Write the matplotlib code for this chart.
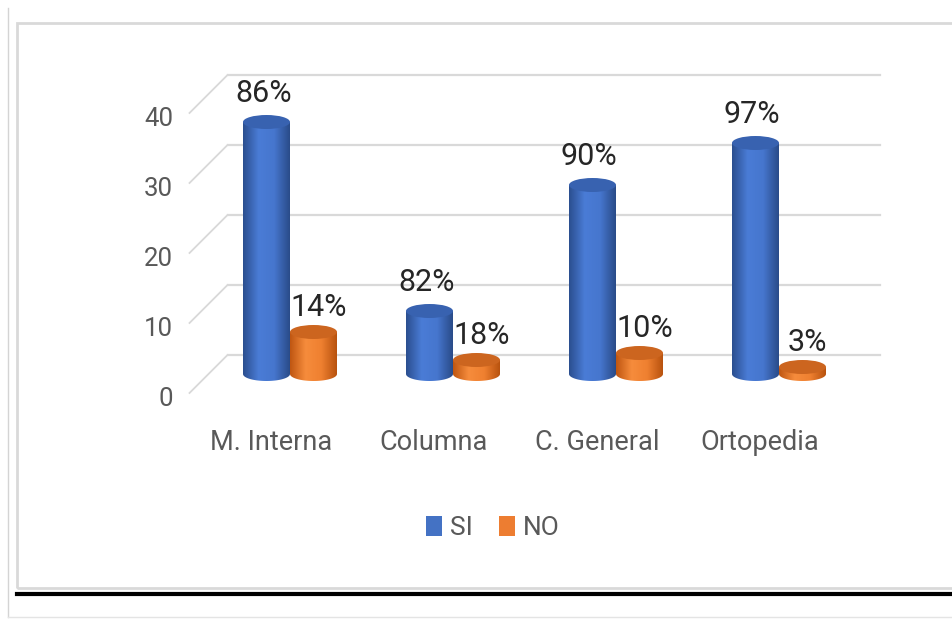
import numpy as np
import matplotlib
matplotlib.use('Agg')
import matplotlib.pyplot as plt
from matplotlib.patches import Polygon, Ellipse, Patch, Rectangle
from matplotlib.colors import LinearSegmentedColormap
from matplotlib.lines import Line2D

categories = ['M. Interna', 'Columna', 'C. General', 'Ortopedia']
si = [36, 9, 27, 33]
no = [6, 2, 3, 1]
si_labels = ['86%', '82%', '90%', '97%']
no_labels = ['14%', '18%', '10%', '3%']
yticks = [0, 10, 20, 30, 40]

plt.rcParams['font.family'] = ['Roboto', 'DejaVu Sans']

W, H = 953, 620
fig = plt.figure(figsize=(W / 100, H / 100), dpi=100)
ax = fig.add_axes([0, 0, 1, 1])
ax.axis('off')

# oblique "3d" layout: 163 px per category, 7 px per unit, front origin at (271, 393)
xlim = (-271 / 163, (W - 271) / 163)
ylim = ((393 - H) / 7, 393 / 7)
depth_x, depth_y = 38 / 163, 38 / 7
x_left, x_right = -0.5, len(categories) - 0.5

grid_c = '#d9d9d9'
txt_c = '#595959'
for t in yticks:
    ax.plot([x_left, x_left + depth_x], [t, t + depth_y], color=grid_c, lw=1.3, zorder=1)
    ax.plot([x_left + depth_x, x_right + depth_x], [t + depth_y, t + depth_y],
            color=grid_c, lw=1.6, zorder=1)
    ax.text(x_left - 0.1, t - 0.8, str(t), ha='right', va='center', fontsize=18.5, color=txt_c)

bw = 47 / 163
ry = 1.0
base = depth_y / 2

blue_cm = LinearSegmentedColormap.from_list('b', ['#2b4f90', '#4a7cd6', '#4676ce', '#2a4c8a'])
orange_cm = LinearSegmentedColormap.from_list('o', ['#c05712', '#f68c3c', '#ef8030', '#b9530f'])
grad = np.linspace(0, 1, 64).reshape(1, -1)


def cylinder(xc, h, cmap, top_col):
    x0, x1 = xc - bw / 2, xc + bw / 2
    top = base + h
    th = np.linspace(np.pi, 2 * np.pi, 40)
    arc = np.column_stack([xc + bw / 2 * np.cos(th), base + ry * np.sin(th)])
    verts = np.vstack([[x0, top], arc, [x1, top]])
    body = Polygon(verts, closed=True, facecolor='none', edgecolor='none')
    ax.add_patch(body)
    im = ax.imshow(grad, cmap=cmap, extent=[x0, x1, base - ry, top], aspect='auto',
                   interpolation='bilinear', zorder=2)
    im.set_clip_path(body)
    ax.add_patch(Ellipse((xc, top), bw, 2 * ry, facecolor=top_col, edgecolor='none', zorder=3))
    return top


for i, cat in enumerate(categories):
    xc = i + depth_x / 2
    t1 = cylinder(xc - bw / 2, si[i], blue_cm, '#3862b0')
    t2 = cylinder(xc + bw / 2, no[i], orange_cm, '#cc651f')
    ax.text(xc - bw / 2 - 0.02, t1 + 2.9, si_labels[i], ha='center', va='baseline',
            fontsize=22, color='#262626', zorder=5)
    ax.text(xc + bw / 2 + 0.03, t2 + 2.3, no_labels[i], ha='center', va='baseline',
            fontsize=22, color='#262626', zorder=5)
    ax.text(i, -7.1, cat, ha='center', va='center', fontsize=19.5, color=txt_c)

ax.set_xlim(*xlim)
ax.set_ylim(*ylim)

handles = [Patch(facecolor='#4472c4'), Patch(facecolor='#ed7d31')]
ax.legend(handles, ['SI', 'NO'], loc='center', bbox_to_anchor=(493 / W, 1 - 528 / H),
          bbox_transform=fig.transFigure, ncol=2, frameon=False, fontsize=19,
          handlelength=0.6, handleheight=0.8, handletextpad=0.3, columnspacing=1.0,
          labelcolor=txt_c)

# surrounding frame lines
fig.add_artist(Line2D([8 / W, 8 / W], [1 - 8 / H, 1 - 617 / H], transform=fig.transFigure,
                      color='#d4d4d4', lw=1))
fig.add_artist(Rectangle((17 / W, 1 - 588 / H), (W + 20 - 17) / W, (588 - 23) / H,
                         transform=fig.transFigure, fill=False, edgecolor='#d9d9d9', lw=2))
fig.add_artist(Line2D([17 / W, 1], [1 - 594 / H] * 2, transform=fig.transFigure,
                      color='black', lw=3))
fig.add_artist(Line2D([8 / W, 1], [1 - 617 / H] * 2, transform=fig.transFigure,
                      color='#e4e4e4', lw=1))

fig.savefig('out.png', dpi=100)
